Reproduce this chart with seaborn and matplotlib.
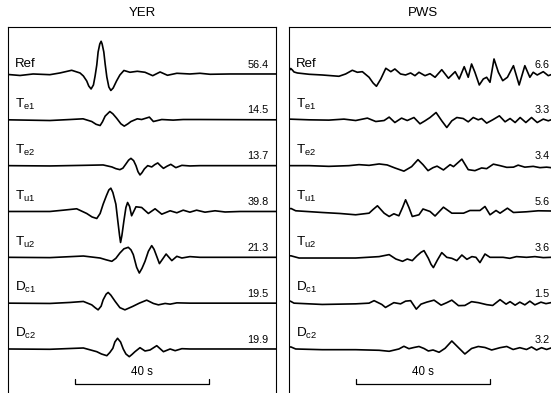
import numpy as np
import pandas as pd
import matplotlib
matplotlib.use('Agg')
import matplotlib.pyplot as plt
import seaborn as sns

# trace labels and the peak amplitudes printed at the right of each trace
TRACE_LABELS = ['Ref', r'$\mathregular{T_{e1}}$', r'$\mathregular{T_{e2}}$', r'$\mathregular{T_{u1}}$',
                r'$\mathregular{T_{u2}}$', r'$\mathregular{D_{c1}}$', r'$\mathregular{D_{c2}}$']
YER_PEAKS = ['56.4', '14.5', '13.7', '39.8', '21.3', '19.5', '19.9']
PWS_PEAKS = ['6.6', '3.3', '3.4', '5.6', '3.6', '1.5', '3.2']

# waveforms: time (s) and displayed amplitude
YER_REF_T = [0, 3.6, 7.5, 12.5, 15.5, 19.0, 21.5, 22.5, 23.5, 24.1, 24.8, 25.5, 26.0, 26.5, 26.9, 27.4, 27.8, 28.1,
             28.6, 29.0, 29.5, 30.1, 30.7, 31.4, 32.4, 33.4, 34.6, 36.4, 38.6, 40.9, 43.2, 45.4, 47.6, 50.4, 54.3,
             57.3, 60.3, 66.3, 80]
YER_REF_A = [-0.5, -1.5, 0, -0.7, 1, 3.7, 1, -2, -7, -12, -15, -11, -2, 9, 22, 30, 32.7, 30, 22, 10, -3, -13, -16.5,
             -14, -7, -1, 3.5, 1.7, 2.7, 1.7, -1.7, 2, -1.3, 0.7, 0, 0.7, -0.3, 0, 0]
YER_TE1_T = [0, 12.5, 18.5, 22.4, 25.0, 26.3, 27.5, 28.2, 29.0, 30.4, 31.3, 32.4, 33.7, 34.7, 35.8, 36.7, 38.6, 39.9,
             42.2, 43.4, 45.9, 49.3, 52.3, 57.3, 80]
YER_TE1_A = [0, -0.7, 0.3, 1, -1.7, -4.5, -5.7, -2, 3.7, 8.3, 6, 1.7, -4, -6.3, -4, -1.7, 1, 0.3, 2.7, -1.7, 0.3,
             -0.3, 0.3, 0.3, 0]
YER_TE2_T = [0, 12.5, 22.5, 28.4, 31.0, 32.2, 33.4, 34.3, 35.2, 36.0, 36.7, 37.5, 38.2, 38.8, 39.4, 40.0, 40.7, 41.7,
             42.9, 43.8, 44.7, 45.5, 46.4, 47.5, 48.6, 50.1, 51.9, 54.3, 57.3, 80]
YER_TE2_A = [0, -0.3, 0.3, 0.7, -1.3, -3, -4, -2.5, 1.7, 5.5, 7.3, 5, 0, -6, -9.3, -7, -3.3, 0, -1.3, 1, 2.7, 0,
             -2.7, -0.5, 1.3, -2, 0.3, -0.3, 0, 0]
YER_TU1_T = [0, 12.5, 16.5, 20.5, 23.5, 25.1, 26.5, 27.5, 28.4, 29.4, 30.1, 30.7, 31.3, 32.2, 32.8, 33.3, 33.6, 34.0,
             34.6, 35.2, 35.7, 36.3, 36.9, 38.2, 39.9, 41.9, 43.9, 45.9, 48.4, 50.4, 52.3, 54.3, 56.3, 58.8, 61.8,
             64.8, 69.3, 80]
YER_TU1_A = [0, 0, 1.3, 2.7, -2, -5.5, -7, -2, 7.3, 16, 21.5, 23.3, 19, 7.3, -10, -24, -31, -24, -9.3, 4, 9, 5, -4.3,
             4.7, 4, -2, 2.7, -2.7, 0.7, -1.3, 1.3, -0.7, 1.3, -0.7, 0.7, -0.5, 0, 0]
YER_TU2_T = [0, 12.5, 22.5, 27.5, 29.3, 31.0, 32.2, 33.4, 34.6, 35.9, 36.7, 37.4, 38.4, 39.2, 40.0, 40.9, 41.9, 42.9,
             43.6, 44.2, 45.2, 46.1, 47.2, 48.9, 50.4, 51.9, 54.3, 57.3, 80]
YER_TU2_A = [0, -0.3, 1.3, -0.7, -2.5, -4, -1, 4.3, 8.5, 10, 7.5, 2.7, -10, -15.7, -11, -4, 6, 11.7, 8, 2.7, -6.3,
             -2, 3.3, -3.3, 1, -0.7, 0.7, 0, 0]
YER_DC1_T = [0, 12.5, 18.5, 22.5, 25.0, 26.0, 26.9, 27.8, 28.4, 29.3, 29.9, 30.7, 32.0, 33.4, 34.9, 37.2, 39.2, 41.4,
             43.4, 44.9, 46.9, 48.4, 50.4, 54.3, 80]
YER_DC1_A = [0, -0.3, 0.7, 1.7, -1.7, -4.5, -6.7, -3, 3.3, 9, 10.7, 8, 1.7, -4.5, -6.7, -3.3, 0, 3, -0.3, -1.7, -0.3,
             -1, 0.3, 0, 0]
YER_DC2_T = [0, 12.5, 22.5, 26.5, 27.9, 29.5, 30.4, 31.3, 31.9, 32.7, 33.6, 34.4, 35.2, 36.2, 37.0, 37.9, 39.4, 40.9,
             42.4, 44.4, 46.4, 48.4, 49.9, 51.9, 54.3, 80]
YER_DC2_A = [0, -0.3, 1, -2.7, -5, -6.7, -3.5, 0.7, 7, 10.7, 7, 0, -5, -7.7, -5.5, -2.7, 1.3, -2, -1, 3.3, -2.7, 0,
             -1.7, 0.3, 0, 0]

PWS_REF_T = [0, 0.5, 1.0, 1.5, 2.5, 6.0, 9.9, 14.9, 16.9, 18.9, 20.4, 21.9, 23.9, 25.1, 26.1, 27.4, 28.9, 30.4, 31.6,
             33.3, 34.8, 36.3, 37.6, 38.8, 40.6, 42.1, 43.6, 45.6, 47.6, 49.6, 50.8, 52.3, 53.5, 54.5, 55.5, 56.8,
             58.0, 59.0, 60.0, 61.2, 62.5, 63.8, 65.2, 67.0, 68.7, 70.4, 71.9, 72.9, 74.1, 75.9, 77.4, 78.2, 80]
PWS_REF_A = [3, 5.5, 4, 2, 1, -0.3, -1, -2.3, 0, 3.7, 1.7, 2.3, -3.3, -9, -12.3, -5, 5.7, 2.3, 5, 0, -1, 1, -1.7, 1.7,
             -1.7, 0.3, -3.3, 4.3, -4.3, 2.3, -5, 7.3, -3.3, 10, 1.7, -11, -5, -3.3, -8.3, 15, 1.7, -6.7, -3.3, 8.3,
             -11, 8.3, -3.3, 1.7, -1, 2.3, -1.7, -0.7, 0.5]
PWS_TE1_T = [0, 6.0, 11.9, 16.4, 19.9, 23.4, 25.9, 28.4, 29.9, 31.6, 33.6, 35.3, 37.3, 39.1, 40.6, 42.1, 43.9, 45.6,
             47.1, 48.6, 50.1, 52.0, 53.5, 55.0, 56.5, 57.5, 59.0, 60.8, 62.8, 64.5, 66.0, 67.5, 69.0, 70.7, 72.4,
             74.1, 75.9, 77.4, 78.2, 80]
PWS_TE1_A = [0.7, 0, -0.3, 0.7, -0.7, 1.7, -1.7, -0.7, 2.7, -2.7, 1.7, -0.7, 2.3, -4, -1, 2.3, 7.3, -1, -7.7, -1,
             2.3, 1.3, -2, 2.3, 0, 1.3, -3.3, 0, 4, -2, 1.3, -2.7, 2.3, -2.7, 2.3, -2.7, 0.7, -1, 0, 0.5]
PWS_TE2_T = [0, 6.0, 11.9, 17.9, 20.9, 23.9, 26.9, 29.3, 31.6, 34.3, 36.6, 38.5, 40.0, 41.5, 43.0, 44.2, 46.1, 48.1,
             49.1, 51.6, 53.5, 55.5, 57.5, 59.0, 61.0, 63.0, 65.0, 67.0, 68.4, 70.4, 72.9, 74.9, 76.9, 78.2, 80]
PWS_TE2_A = [0, 0, -0.7, 0, 1, 0.3, 1.7, 0.7, -2.3, -5.5, -1, 6, 1, -5, -2, -0.5, -4.3, 1, -1, 6.5, -4, -5, -2.3, -3,
             1.5, 0, -1.7, -1.5, 0.5, -1.5, -0.7, -2, -1.5, -2, -1.5]
PWS_TU1_T = [0, 0.6, 2.0, 9.9, 15.2, 19.9, 23.9, 25.1, 26.4, 28.4, 29.9, 31.3, 32.8, 33.9, 34.8, 35.8, 36.8, 38.8,
             40.0, 42.1, 43.6, 46.1, 48.6, 52.1, 54.0, 57.0, 58.5, 60.0, 61.8, 63.0, 65.2, 67.0, 70.9, 74.4, 78.2, 80]
PWS_TU1_A = [2.5, 3, 0.7, -1, -2, -3.3, -1.7, 2, 5.7, -1.7, -5, -2.3, -4.3, 4, 11.7, 4, -5, -3.3, 2.5, 0, -4.5, 4.3,
             -1.7, -1.7, 1, 1, 5, -3.3, 1, -1.7, 3.3, -1, -0.3, 0.7, 0.5, 0.5]
PWS_TU2_T = [0, 0.6, 3.0, 9.9, 19.9, 26.9, 29.9, 31.9, 33.9, 35.3, 36.8, 38.2, 39.4, 40.3, 41.6, 42.4, 43.1, 44.3,
             45.6, 47.1, 48.6, 50.1, 51.6, 53.1, 54.6, 55.8, 57.0, 58.5, 60.0, 63.9, 65.9, 67.9, 70.9, 73.4, 75.9,
             78.2, 80]
PWS_TU2_A = [1.5, 1.5, -0.7, -0.7, -0.7, 0.7, 2.7, -1.7, -4, -1.7, -3.3, 1.5, 5, 6.7, -1, -7, -10.3, -2.7, 4.7, 0,
             -1, -3.3, 2.3, -2, 0.7, 0, -5.3, 3.3, 0, 0, -1, 0.7, 0, 0.7, -0.3, 0, 0]
PWS_DC1_T = [0, 0.4, 1.5, 9.9, 19.9, 23.9, 25.4, 27.7, 28.8, 31.3, 33.3, 34.8, 36.3, 38.0, 39.4, 41.1, 43.3, 45.4,
             47.1, 48.6, 50.6, 52.5, 54.5, 56.5, 59.0, 60.8, 63.0, 64.8, 66.0, 67.5, 68.9, 70.4, 71.9, 73.4, 75.2,
             76.7, 78.2, 80]
PWS_DC1_A = [2, 2, 0, -1.3, -0.7, 0, 2.5, -1.3, -4.3, 0.5, -0.7, 2, 2.5, -6, -1, 1, 3, -2, 0.5, 3, -2.5, -2.3, 1.5,
             0.5, -1.5, -2.3, 3.5, -1, 1.5, -2, 1, -1.7, 2, -1.7, 1, -0.5, 0.5, 0]
PWS_DC2_T = [0, 0.6, 2.0, 9.9, 19.9, 26.9, 29.9, 32.8, 34.3, 35.8, 37.3, 38.8, 40.3, 41.6, 43.0, 44.8, 46.6, 48.6,
             50.6, 52.5, 54.5, 56.5, 58.5, 60.5, 63.0, 65.0, 66.9, 68.9, 70.9, 72.4, 73.9, 75.4, 76.9, 78.2, 80]
PWS_DC2_A = [2, 2, 0, -0.7, -0.7, -1.3, -2.3, 0, 2.7, 0.3, 1.5, 2.5, 0.5, -2, -1, -3.3, 0.7, 8, 1.3, -5, 0.5, 2.5,
             1.5, -1, 1.3, 2.5, -0.5, 1.3, -0.5, 2, -1, 1.3, -0.5, 1, 0.5]

SCALE_BAR = (20, 60)  # 40 s
GAIN = 1 / 45.83      # amplitude units per trace spacing


def build_frame(traces):
    frames = []
    for i, (t, a) in enumerate(traces):
        df = pd.DataFrame({'t': t, 'amp': a})
        df['trace'] = i
        df['y'] = -i + df['amp'] * GAIN
        frames.append(df)
    return pd.concat(frames, ignore_index=True)


def draw_panel(ax, traces, peaks, title):
    df = build_frame(traces)
    sns.lineplot(data=df, x='t', y='y', units='trace', estimator=None, sort=False,
                 color='black', lw=1.2, ax=ax, legend=False,
                 solid_joinstyle='round', solid_capstyle='round')
    for i, (lab, pk) in enumerate(zip(TRACE_LABELS, peaks)):
        if i == 0:
            ax.text(2.0, 0.15, lab, fontsize=9.5, ha='left', va='baseline')
        else:
            ax.text(2.0, -i + 0.17, lab, fontsize=9.7, ha='left', va='bottom')
        ax.text(77.8, -i + 0.14, pk, fontsize=7.8, ha='right', va='baseline')
    x0, x1 = SCALE_BAR
    ax.plot([x0, x0, x1, x1], [-6.66, -6.764, -6.764, -6.66], color='black', lw=0.9)
    ax.text((x0 + x1) / 2, -6.50, '40 s', fontsize=8.3, ha='center', va='center')
    ax.set_xlim(0, 80)
    ax.set_ylim(-7.113, 1.025)
    ax.set_xticks([])
    ax.set_yticks([])
    ax.set_xlabel('')
    ax.set_ylabel('')
    ax.set_title(title, fontsize=9.5, pad=8)
    for s in ax.spines.values():
        s.set_color('black')
        s.set_linewidth(0.8)


sns.set_style('white')
plt.rcParams['font.family'] = ['Liberation Sans', 'DejaVu Sans']
plt.rcParams['mathtext.fontset'] = 'custom'
plt.rcParams['mathtext.rm'] = 'Liberation Sans'
plt.rcParams['text.color'] = 'black'

yer = [(YER_REF_T, YER_REF_A), (YER_TE1_T, YER_TE1_A), (YER_TE2_T, YER_TE2_A), (YER_TU1_T, YER_TU1_A),
       (YER_TU2_T, YER_TU2_A), (YER_DC1_T, YER_DC1_A), (YER_DC2_T, YER_DC2_A)]
pws = [(PWS_REF_T, PWS_REF_A), (PWS_TE1_T, PWS_TE1_A), (PWS_TE2_T, PWS_TE2_A), (PWS_TU1_T, PWS_TU1_A),
       (PWS_TU2_T, PWS_TU2_A), (PWS_DC1_T, PWS_DC1_A), (PWS_DC2_T, PWS_DC2_A)]

fig = plt.figure(figsize=(5.51, 3.93), dpi=100)
ax1 = fig.add_axes([8 / 551, -7 / 393, 268 / 551, 373 / 393])
ax2 = fig.add_axes([289 / 551, -7 / 393, 268 / 551, 373 / 393])
draw_panel(ax1, yer, YER_PEAKS, 'YER')
draw_panel(ax2, pws, PWS_PEAKS, 'PWS')

fig.savefig('out.png', dpi=100)
